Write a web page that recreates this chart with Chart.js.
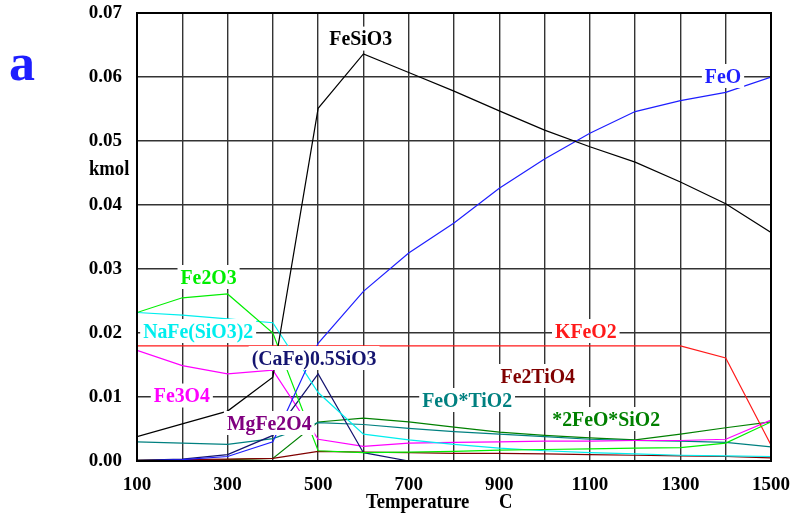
<!DOCTYPE html>
<html>
<head>
<meta charset="utf-8">
<script src="https://cdn.jsdelivr.net/npm/chart.js@4.4.1/dist/chart.umd.min.js"></script>
<style>
  html, body { margin: 0; padding: 0; background: #ffffff; }
  #wrap { width: 794px; height: 514px; position: relative; }
</style>
</head>
<body>
<div id="wrap"><canvas id="chart" width="794" height="514"></canvas></div>
<script>
// Equilibrium amounts of iron-bearing phases versus temperature
const temperatures = [100, 200, 300, 400, 500, 600, 700, 800, 900, 1000, 1100, 1200, 1300, 1400, 1500];

const feSiO3    = [0.0038, 0.0058, 0.0078, 0.0131, 0.0551, 0.0636, 0.0607, 0.0578, 0.0547, 0.0517, 0.0491, 0.0467, 0.0436, 0.0402, 0.0357];
const feO       = [0.0000, 0.0002, 0.0007, 0.0030, 0.0184, 0.0265, 0.0325, 0.0372, 0.0426, 0.0472, 0.0512, 0.0546, 0.0563, 0.0576, 0.0600];
const fe2O3     = [0.0232, 0.0255, 0.0261, 0.0200, 0.0016, 0.0013, 0.0014, 0.0015, 0.0017, 0.0018, 0.0019, 0.0020, 0.0021, 0.0028, 0.0061];
const naFeSiO32 = [0.0232, 0.0228, 0.0222, 0.0216, 0.0107, 0.0042, 0.0033, 0.0026, 0.0020, 0.0016, 0.0013, 0.0011, 0.0009, 0.0008, 0.0007];
const kFeO2     = [0.0180, 0.0180, 0.0180, 0.0180, 0.0180, 0.0180, 0.0180, 0.0180, 0.0180, 0.0180, 0.0180, 0.0180, 0.0180, 0.0161, 0.0025];
const caFeSiO3  = [0.0001, 0.0003, 0.0010, 0.0040, 0.0136, 0.0013, 0.0000, 0.0000, 0.0000, 0.0000, 0.0000, 0.0000, 0.0000, 0.0000, 0.0000];
const fe3O4     = [0.0173, 0.0149, 0.0136, 0.0142, 0.0034, 0.0023, 0.0028, 0.0029, 0.0030, 0.0031, 0.0031, 0.0032, 0.0032, 0.0034, 0.0064];
const fe2TiO4   = [0.0001, 0.0002, 0.0003, 0.0004, 0.0015, 0.0014, 0.0013, 0.0012, 0.0012, 0.0011, 0.0010, 0.0009, 0.0008, 0.0007, 0.0005];
const feOTiO2   = [0.0030, 0.0028, 0.0026, 0.0035, 0.0060, 0.0057, 0.0051, 0.0046, 0.0042, 0.0038, 0.0034, 0.0032, 0.0031, 0.0029, 0.0022];
const mgFe2O4   = [0.0000, 0.0000, 0.0000, 0.0000, 0.0000, 0.0000, 0.0000, 0.0000, 0.0000, 0.0000, 0.0000, 0.0000, 0.0000, 0.0000, 0.0000];
const fayalite  = [0.0001, 0.0001, 0.0002, 0.0004, 0.0061, 0.0067, 0.0061, 0.0053, 0.0045, 0.0040, 0.0036, 0.0033, 0.0042, 0.0052, 0.0061];

const yTickValues = [0, 0.01, 0.02, 0.03, 0.04, 0.05, 0.06, 0.07];
const xTickLabels = [100, 300, 500, 700, 900, 1100, 1300, 1500];

// Series names, colours, and where each name sits (in temperature / kmol)
const series = [
  { name: 'MgFe2O4',        values: mgFe2O4,   color: '#800080', width: 2.2, at: [392, 0.00594] },
  { name: 'FeSiO3',         values: feSiO3,    color: '#000000', width: 1.2, at: [594, 0.0660] },
  { name: 'FeO',            values: feO,       color: '#1e1eff', width: 1.2, at: [1394, 0.06016] },
  { name: 'Fe2O3',          values: fe2O3,     color: '#00ee00', width: 1.2, at: [258, 0.02875] },
  { name: 'NaFe(SiO3)2',    values: naFeSiO32, color: '#00eeee', width: 1.2, at: [235, 0.02031] },
  { name: 'KFeO2',          values: kFeO2,     color: '#ff1a1a', width: 1.2, at: [1091, 0.02031] },
  { name: '(CaFe)0.5SiO3',  values: caFeSiO3,  color: '#141470', width: 1.2, at: [491, 0.01609] },
  { name: 'Fe3O4',          values: fe3O4,     color: '#ff00ff', width: 1.2, at: [199, 0.01023] },
  { name: 'Fe2TiO4',        values: fe2TiO4,   color: '#800000', width: 1.2, at: [985, 0.01328] },
  { name: 'FeO*TiO2',       values: feOTiO2,   color: '#008080', width: 1.2, at: [829, 0.00953] },
  { name: '*2FeO*SiO2',     values: fayalite,  color: '#008000', width: 1.2, at: [1136, 0.00656] }
];

const SERIF = "'Liberation Serif', 'Times New Roman', serif";

const datasets = series.map(s => ({
  label: s.name,
  data: temperatures.map((t, i) => ({ x: t, y: s.values[i] })),
  borderColor: s.color,
  backgroundColor: s.color,
  borderWidth: s.width,
  pointRadius: 0,
  tension: 0,
  fill: false
}));

// Draws text slightly condensed so the tall bold face keeps its width
function condensedText(ctx, text, x, y, squeeze) {
  ctx.save();
  ctx.translate(x, y);
  ctx.scale(squeeze, 1);
  ctx.fillText(text, 0, 0);
  ctx.restore();
}

// Frame, in-plot series names, axis captions and panel letter
const decorations = {
  id: 'decorations',
  afterDatasetsDraw(chart) {
    const { ctx, chartArea: a, scales: { x, y } } = chart;
    ctx.save();
    ctx.strokeStyle = '#000';
    ctx.lineWidth = 2;
    ctx.strokeRect(a.left, a.top, a.right - a.left, a.bottom - a.top);

    const squeeze = 0.9;
    ctx.font = 'bold 22px ' + SERIF;
    ctx.textAlign = 'center';
    ctx.textBaseline = 'middle';
    series.forEach(s => {
      const px = x.getPixelForValue(s.at[0]);
      const py = y.getPixelForValue(s.at[1]);
      const w = ctx.measureText(s.name).width * squeeze;
      ctx.fillStyle = '#ffffff';
      ctx.fillRect(px - w / 2 - 3, py - 12, w + 6, 24);
      ctx.fillStyle = s.color;
      condensedText(ctx, s.name, px, py + 1, squeeze);
    });
    ctx.restore();
  },
  afterDraw(chart) {
    const { ctx } = chart;
    ctx.save();
    ctx.fillStyle = '#000';
    ctx.font = 'bold 20px ' + SERIF;
    ctx.textBaseline = 'middle';
    ctx.textAlign = 'left';
    condensedText(ctx, 'kmol', 89, 170, 0.93);
    condensedText(ctx, 'Temperature', 366, 503, 0.93);
    condensedText(ctx, 'C', 499, 503, 0.93);

    ctx.fillStyle = '#1e1eff';
    ctx.font = 'bold 52px ' + SERIF;
    ctx.fillText('a', 9, 67);
    ctx.restore();
  }
};

new Chart(document.getElementById('chart'), {
  type: 'line',
  data: { datasets },
  options: {
    responsive: false,
    animation: false,
    devicePixelRatio: 1,
    layout: { padding: { left: 0, right: 23, top: 13, bottom: 0 } },
    plugins: { legend: { display: false }, tooltip: { enabled: false } },
    scales: {
      x: {
        type: 'linear',
        min: 100,
        max: 1500,
        afterFit(scale) {
          scale.height = 53;
          scale.paddingLeft = 0;
          scale.paddingRight = 0;
        },
        afterBuildTicks(scale) {
          scale.ticks = temperatures.map(v => ({ value: v }));
        },
        grid: { color: '#333333', lineWidth: 1.4, drawTicks: false },
        border: { display: false },
        ticks: {
          autoSkip: false,
          maxRotation: 0,
          padding: 13,
          color: '#000',
          font: { family: SERIF, size: 19, weight: 'bold' },
          callback: v => (xTickLabels.includes(v) ? String(v) : '')
        }
      },
      y: {
        type: 'linear',
        min: 0,
        max: 0.07,
        afterFit(scale) {
          scale.width = 137;
          scale.paddingTop = 0;
          scale.paddingBottom = 0;
        },
        afterBuildTicks(scale) {
          scale.ticks = yTickValues.map(v => ({ value: v }));
        },
        grid: { color: '#333333', lineWidth: 1.4, drawTicks: false },
        border: { display: false },
        ticks: {
          padding: 15,
          color: '#000',
          font: { family: SERIF, size: 19, weight: 'bold' },
          callback: v => Number(v).toFixed(2)
        }
      }
    }
  },
  plugins: [decorations]
});
</script>
</body>
</html>
